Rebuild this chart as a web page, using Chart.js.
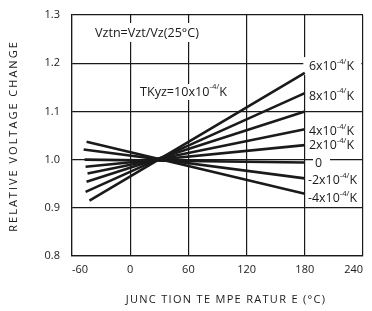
<!DOCTYPE html>
<html>
<head>
<meta charset="utf-8">
<script src="https://cdn.jsdelivr.net/npm/chart.js@4"></script>
<style>
  html, body { margin: 0; padding: 0; background: #fff; }
  #wrap { width: 372px; height: 311px; }
</style>
</head>
<body>
<div id="wrap"><canvas id="chart" width="372" height="311"></canvas></div>
<script>
// each line goes from (startTemps[i], startValues[i]) to (endTemp, endValues[i])
const startTemps = [-45, -48, -47, -46, -44, -45, -46, -42];
const startValues = [1.037, 1.021, 1.0, 0.985, 0.971, 0.954, 0.933, 0.915];
const endTemp = 180;
const endValues = [0.929, 0.961, 0.994, 1.030, 1.063, 1.100, 1.138, 1.180];

const xTicks = [-60, 0, 60, 120, 180, 240];
const yTicks = [0.8, 0.9, 1.0, 1.1, 1.2, 1.3];

// right-hand labels: [base, superscript, tail, value the label sits at]
const rightLabels = [
  ['6x10', '-4/', 'K', 1.194],
  ['8x10', '-4/', 'K', 1.132],
  ['4x10', '-4/', 'K', 1.058],
  ['2x10', '-4/', 'K', 1.029],
  ['0', '', '', 0.993],
  ['-2x10', '-4/', 'K', 0.957],
  ['-4x10', '-4/', 'K', 0.920]
];

const FONT = '"Open Sans", "DejaVu Sans", sans-serif';

const datasets = startTemps.map((t, i) => ({
  data: [{ x: t, y: startValues[i] }, { x: endTemp, y: endValues[i] }],
  borderColor: '#1a1a1a',
  borderWidth: 2.6,
  pointRadius: 0,
  fill: false,
  tension: 0
}));

function drawSup(ctx, x, y, base, sup, tail, size) {
  ctx.font = size + 'px ' + FONT;
  ctx.textBaseline = 'middle';
  ctx.textAlign = 'left';
  ctx.fillText(base, x, y);
  let w = ctx.measureText(base).width;
  if (sup) {
    ctx.font = (size * 0.62) + 'px ' + FONT;
    ctx.fillText(sup, x + w, y - size * 0.38);
    w += ctx.measureText(sup).width;
    ctx.font = size + 'px ' + FONT;
    ctx.fillText(tail, x + w, y);
    w += ctx.measureText(tail).width;
  }
  return w;
}

const textPlugin = {
  id: 'texts',
  beforeDatasetsDraw(chart) {
    const ctx = chart.ctx;
    const xs = chart.scales.x, ys = chart.scales.y;
    ctx.save();
    ctx.fillStyle = '#fff';
    // blank boxes behind labels, cutting the grid
    ctx.fillRect(92, 23, 112, 19);
    ctx.fillRect(138, 84, 94, 16);
    ctx.fillRect(xs.getPixelForValue(180) - 1.5, ys.getPixelForValue(1.194) - 9, 58, 18);
    ctx.fillRect(313, ys.getPixelForValue(0.993) - 6, 17, 12);
    ctx.restore();
  },
  afterDatasetsDraw(chart) {
    const ctx = chart.ctx;
    const ys = chart.scales.y;
    ctx.save();
    ctx.fillStyle = '#1a1a1a';
    drawSup(ctx, 95, 33, 'Vztn=Vzt/Vz(25°C)', '', '', 12.6);
    drawSup(ctx, 140, 92, 'TKyz=10x10', '-4/', 'K', 12.6);
    rightLabels.forEach(l => {
      const x = l[0] === '0' ? 315 : (l[0][0] === '-' ? 308 : 309);
      drawSup(ctx, x, ys.getPixelForValue(l[3]), l[0], l[1], l[2], 12.4);
    });
    // axis titles
    ctx.font = '11px ' + FONT;
    ctx.letterSpacing = '1.3px';
    ctx.textAlign = 'center';
    ctx.textBaseline = 'middle';
    ctx.fillText('JUNC TION TE MPE RATUR E (°C)', 226, 300);
    ctx.translate(14, 136);
    ctx.rotate(-Math.PI / 2);
    ctx.letterSpacing = '2px';
    ctx.fillText('RELATIVE VOLTAGE CHANGE', 0, 0);
    ctx.restore();
  }
};

new Chart(document.getElementById('chart'), {
  type: 'line',
  data: { datasets },
  plugins: [textPlugin],
  options: {
    responsive: false,
    animation: false,
    layout: { padding: { top: 15, right: 9, left: 0, bottom: 0 } },
    plugins: { legend: { display: false }, tooltip: { enabled: false } },
    scales: {
      x: {
        type: 'linear',
        min: -60,
        max: 240,
        afterBuildTicks: s => { s.ticks = xTicks.map(v => ({ value: v })); },
        afterFit: s => { s.height = 55; s.paddingLeft = 0; s.paddingRight = 0; },
        ticks: {
          align: 'inner',
          padding: 7,
          color: '#1a1a1a',
          font: { family: FONT, size: 11 }
        },
        grid: { color: '#1a1a1a', lineWidth: 1.2, drawTicks: false },
        border: { color: '#1a1a1a', width: 1.2 }
      },
      y: {
        min: 0.8,
        max: 1.3,
        afterBuildTicks: s => { s.ticks = yTicks.map(v => ({ value: v })); },
        afterFit: s => { s.width = 72; s.paddingTop = 0; s.paddingBottom = 0; },
        ticks: {
          padding: 12,
          color: '#1a1a1a',
          font: { family: FONT, size: 11 },
          callback: v => v.toFixed(1)
        },
        grid: { color: '#1a1a1a', lineWidth: 1.2, drawTicks: false },
        border: { color: '#1a1a1a', width: 1.2 }
      }
    }
  }
});
</script>
</body>
</html>
